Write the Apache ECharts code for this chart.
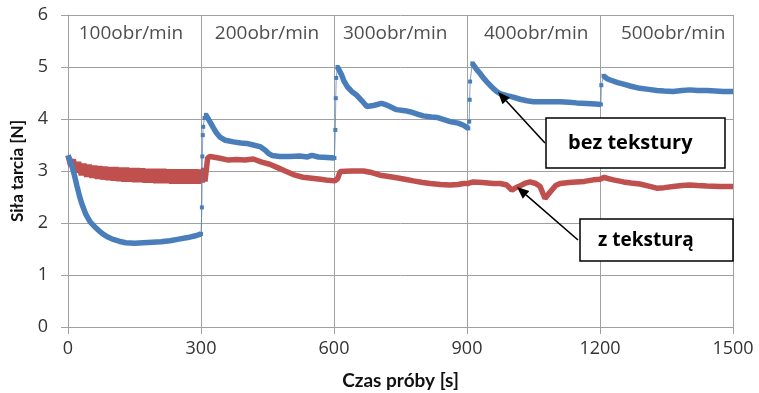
<!DOCTYPE html>
<html><head><meta charset="utf-8">
<script src="https://cdn.jsdelivr.net/npm/echarts@6/dist/echarts.min.js"></script>
<style>html,body{margin:0;padding:0;background:#fff}#c{width:759px;height:393px}</style>
</head><body><div id="c"></div>
<script>
// ---- data (time [s], force [N]) ----
const speedLabels = ['100obr/min', '200obr/min', '300obr/min', '400obr/min', '500obr/min'];
const speedLabelAt = [[142, 5.64], [449, 5.64], [738, 5.64], [1056, 5.64], [1365, 5.64]];

// "bez tekstury" steady parts of each stage
const blue1 = [[0,3.3],[5,3.2],[10,3.06],[15,2.9],[20,2.72],[25,2.55],[30,2.4],[40,2.17],[50,2.02],[60,1.93],[70,1.85],[80,1.78],[90,1.73],[100,1.69],[115,1.65],[130,1.62],[150,1.61],[170,1.62],[190,1.63],[210,1.64],[230,1.66],[250,1.69],[270,1.72],[290,1.76],[300,1.79]];
const blue2 = [[311,4.08],[315,4.06],[320,3.95],[328,3.83],[335,3.73],[343,3.65],[355,3.59],[373,3.56],[390,3.54],[403,3.53],[418,3.5],[433,3.47],[445,3.4],[452,3.34],[460,3.3],[478,3.28],[500,3.28],[522,3.29],[540,3.27],[550,3.3],[565,3.27],[585,3.26],[601,3.25]];
const blue3 = [[608,5.0],[612,4.97],[617,4.85],[622,4.74],[630,4.62],[640,4.53],[651,4.46],[662,4.36],[674,4.24],[689,4.26],[707,4.3],[718,4.27],[726,4.24],[741,4.18],[760,4.16],[771,4.14],[790,4.09],[801,4.06],[820,4.04],[832,4.03],[848,3.99],[862,3.95],[880,3.92],[892,3.88],[903,3.82]];
const blue4 = [[912,5.07],[916,5.02],[922,4.95],[929,4.88],[936,4.8],[944,4.72],[952,4.65],[959,4.59],[967,4.53],[974,4.49],[990,4.45],[1004,4.42],[1020,4.38],[1035,4.35],[1050,4.33],[1072,4.33],[1090,4.33],[1110,4.33],[1130,4.32],[1147,4.31],[1170,4.3],[1190,4.29],[1202,4.28]];
const blue5 = [[1208,4.83],[1215,4.78],[1223,4.75],[1240,4.7],[1253,4.67],[1270,4.63],[1290,4.59],[1310,4.57],[1328,4.55],[1345,4.54],[1365,4.53],[1385,4.55],[1403,4.56],[1420,4.55],[1441,4.55],[1460,4.54],[1478,4.53],[1500,4.53]];
// "bez tekstury" transitions at speed changes (sparse points)
const blueJump1 = [[300,1.79],[302,2.3],[303,3.28],[304,3.69],[305,3.85],[308,4.02],[311,4.08]];
const blueJump2 = [[601,3.25],[603,3.79],[604,4.4],[605,4.79],[608,5.0]];
const blueJump3 = [[903,3.82],[905,3.95],[906,4.37],[907,4.72],[912,5.07]];
const blueJump4 = [[1202,4.28],[1203,4.65],[1208,4.83]];

// "z teksturą" stage 1 (scattered band) and the rest
const red1 = [[0,3.3],[6,3.1],[12,3.22],[18,2.97],[24,3.17],[30,2.92],[36,3.14],[42,2.89],[48,3.12],[54,2.87],[60,3.1],[66,2.85],[72,3.09],[78,2.84],[84,3.08],[90,2.83],[96,3.07],[102,2.82],[108,3.07],[114,2.81],[120,3.06],[126,2.8],[132,3.06],[138,2.8],[144,3.05],[150,2.79],[156,3.05],[162,2.79],[168,3.05],[174,2.78],[180,3.04],[186,2.78],[192,3.04],[198,2.77],[204,3.04],[210,2.77],[216,3.04],[222,2.77],[228,3.03],[234,2.76],[240,3.03],[246,2.76],[252,3.03],[258,2.76],[264,3.03],[270,2.76],[276,3.03],[282,2.76],[288,3.03],[294,2.76],[300,3.03],[303,2.78],[306,3.06],[309,2.8]];
const red2 = [[315,3.25],[320,3.28],[340,3.25],[362,3.21],[380,3.22],[399,3.21],[418,3.23],[437,3.17],[455,3.13],[474,3.06],[490,3.0],[512,2.92],[530,2.88],[550,2.86],[570,2.84],[587,2.82],[602,2.81],[608,2.85],[614,2.99],[640,3.0],[666,3.0],[685,2.97],[704,2.92],[720,2.9],[741,2.87],[760,2.84],[779,2.81],[800,2.78],[817,2.76],[840,2.74],[862,2.73],[880,2.74],[892,2.76],[903,2.76],[914,2.79],[935,2.78],[959,2.76],[975,2.76],[990,2.73],[1001,2.63],[1008,2.67],[1016,2.7],[1030,2.76],[1042,2.79],[1055,2.76],[1065,2.7],[1076,2.47],[1084,2.56],[1091,2.63],[1100,2.72],[1110,2.76],[1130,2.78],[1147,2.79],[1165,2.8],[1185,2.83],[1200,2.84],[1210,2.88],[1215,2.86],[1230,2.83],[1253,2.79],[1270,2.77],[1290,2.75],[1310,2.71],[1328,2.67],[1345,2.68],[1365,2.7],[1385,2.72],[1403,2.73],[1420,2.72],[1441,2.71],[1470,2.7],[1500,2.7]];

// ---- chart ----
const BLUE = '#4a7ebb', RED = '#c0504d', GRID = '#a0a0a0';
const chart = echarts.init(document.getElementById('c'));

function arrow(x1, y1, x2, y2) {
  const a = Math.atan2(y2 - y1, x2 - x1), L = 12, W = 5;
  const bx = x2 - L * Math.cos(a), by = y2 - L * Math.sin(a);
  const nx = -Math.sin(a) * W, ny = Math.cos(a) * W;
  return [
    { type: 'line', shape: { x1, y1, x2: bx, y2: by }, style: { stroke: '#000', lineWidth: 1.6 } },
    { type: 'polygon', shape: { points: [[x2, y2], [bx + nx, by + ny], [bx - nx, by - ny]] }, style: { fill: '#000' } }
  ];
}

const series = [];
series.push({ type: 'line', data: red1.concat(red2), symbol: 'none', lineStyle: { color: RED, width: 5.5 }, z: 2, animation: false });
[blue1, blue2, blue3, blue4, blue5].forEach(d => series.push({
  type: 'line', data: d, symbol: 'none', lineStyle: { color: BLUE, width: 5.5 }, z: 3, animation: false
}));
[blueJump1, blueJump2, blueJump3, blueJump4].forEach(d => series.push({
  type: 'line', data: d, symbol: 'rect', symbolSize: 4, itemStyle: { color: BLUE },
  lineStyle: { color: BLUE, width: 1, opacity: 0.7 }, z: 3, animation: false
}));
series.push({
  type: 'scatter', data: speedLabelAt.map((p, i) => ({ value: p, name: speedLabels[i] })),
  symbolSize: 0, silent: true, animation: false,
  label: { show: true, position: 'inside', formatter: p => p.name, fontFamily: 'Open Sans', fontSize: 19, color: '#222' }
});

chart.setOption({
  backgroundColor: '#fff',
  animation: false,
  grid: { left: 68, right: 26, top: 15, bottom: 66, containLabel: false, outerBoundsMode: 'none' },
  xAxis: {
    type: 'value', min: 0, max: 1500, interval: 300,
    name: 'Czas próby [s]', nameLocation: 'middle', nameGap: 44,
    nameTextStyle: { fontFamily: 'Lato', fontWeight: 'bold', fontSize: 19, color: '#111' },
    axisLine: { show: true, lineStyle: { color: GRID } },
    axisTick: { show: true, length: 7, lineStyle: { color: GRID } },
    axisLabel: { fontFamily: 'Open Sans', fontSize: 18, color: '#333', margin: 13, formatter: v => String(v) },
    splitLine: { show: true, lineStyle: { color: GRID } }
  },
  yAxis: {
    type: 'value', min: 0, max: 6, interval: 1,
    name: 'Siła tarcia [N]', nameLocation: 'middle', nameGap: 42,
    nameTextStyle: { fontFamily: 'Lato', fontWeight: 'bold', fontSize: 17, color: '#111' },
    axisLine: { show: true, lineStyle: { color: GRID } },
    axisTick: { show: true, length: 7, lineStyle: { color: GRID } },
    axisLabel: { fontFamily: 'Open Sans', fontSize: 18, color: '#333', margin: 20 },
    splitLine: { show: true, lineStyle: { color: GRID } }
  },
  series,
  graphic: [
    { type: 'rect', shape: { x: 546, y: 118, width: 179, height: 50 }, style: { fill: '#fff', stroke: '#000', lineWidth: 1.5 }, z: 10 },
    { type: 'text', x: 568, y: 143, style: { text: 'bez tekstury', fontFamily: 'Open Sans', fontWeight: 'bold', fontSize: 20, fill: '#000', textVerticalAlign: 'middle' }, z: 11 },
    { type: 'rect', shape: { x: 580, y: 219, width: 153, height: 42 }, style: { fill: '#fff', stroke: '#000', lineWidth: 1.5 }, z: 10 },
    { type: 'text', x: 598, y: 241, style: { text: 'z teksturą', fontFamily: 'Open Sans', fontWeight: 'bold', fontSize: 19, fill: '#000', textVerticalAlign: 'middle' }, z: 11 },
    ...arrow(545, 143, 498, 92).map(g => Object.assign(g, { z: 11 })),
    ...arrow(578, 240, 517, 187).map(g => Object.assign(g, { z: 11 }))
  ]
});
</script>
</body></html>
